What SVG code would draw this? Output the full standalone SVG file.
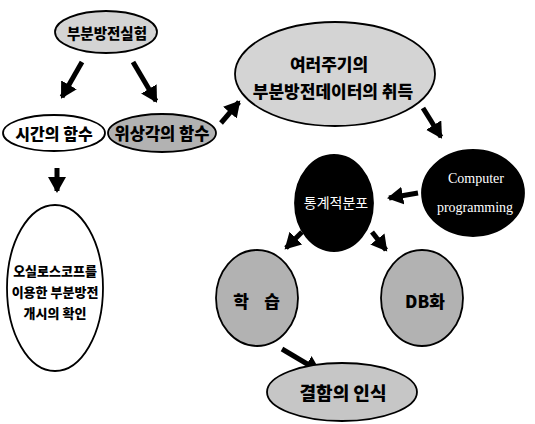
<svg xmlns="http://www.w3.org/2000/svg" width="535" height="424" viewBox="0 0 535 424">
<defs>
<style>
.node{stroke:#000;stroke-width:1.8}
.w{fill:#fff}
.l{fill:#d4d4d4}
.m{fill:#c6c6c6}
.d{fill:#b2b2b2}
.b{fill:#000}
.t{font-family:"Noto Sans CJK KR","Noto Sans",sans-serif;font-weight:900;font-size:14px;fill:#000;text-anchor:middle;dominant-baseline:central}
.tw{font-family:"Noto Sans CJK KR","Noto Sans",sans-serif;font-size:14px;fill:#fff;text-anchor:middle;dominant-baseline:central}
.ts{font-family:"Liberation Serif",serif;font-size:14px;fill:#fff;text-anchor:middle;dominant-baseline:central}
.arr{stroke:#000;stroke-width:5;fill:none;marker-end:url(#ah)}
</style>
<marker id="ah" markerUnits="userSpaceOnUse" markerWidth="18" markerHeight="18" refX="14" refY="9" orient="auto">
<path d="M0,0 L16,9 L0,18 z" fill="#000"/>
</marker>
</defs>
<rect width="535" height="424" fill="#fff"/>
<g id="connectors">
<line class="arr" x1="82" y1="62" x2="62" y2="97"/>
<line class="arr" x1="133" y1="62" x2="156" y2="101"/>
<line class="arr" x1="221" y1="123" x2="239" y2="102"/>
<line class="arr" x1="423" y1="108" x2="441" y2="137"/>
<line class="arr" x1="418" y1="193" x2="389" y2="198"/>
<line class="arr" x1="302" y1="232" x2="286" y2="248"/>
<line class="arr" x1="372" y1="232" x2="386" y2="250"/>
<line class="arr" x1="282" y1="349" x2="319" y2="371"/>
<line class="arr" x1="57" y1="168" x2="57" y2="191"/>
</g>
<g id="n1"><ellipse class="node l" cx="106" cy="32" rx="51" ry="21"/><text class="t" x="107" y="32" style="font-size:14.5px">부분방전실험</text></g>
<g id="n2"><ellipse class="node w" cx="54" cy="133" rx="51" ry="18"/><text class="t" x="54" y="133" style="font-size:16px">시간의 함수</text></g>
<g id="n3"><ellipse class="node d" cx="162" cy="133" rx="54" ry="19"/><text class="t" x="162" y="133" style="font-size:16.5px">위상각의 함수</text></g>
<g id="n4"><ellipse class="node l" cx="335" cy="74" rx="100" ry="52"/><text class="t" x="329" y="63" style="font-size:17px">여러주기의</text><text class="t" x="333" y="90" style="font-size:17px">부분방전데이터의 취득</text></g>
<g id="n5"><ellipse class="node b" cx="473" cy="193" rx="51" ry="43"/><text class="ts" x="476" y="178">Computer</text><text class="ts" x="475" y="207">programming</text></g>
<g id="n6"><ellipse class="node b" cx="334" cy="203" rx="39" ry="48"/><text class="tw" x="336" y="202">통계적분포</text></g>
<g id="n7"><ellipse class="node d" cx="257" cy="298" rx="41" ry="48"/><text class="t" x="258" y="300" style="font-size:17px"><tspan x="241">학</tspan><tspan x="272">습</tspan></text></g>
<g id="n8"><ellipse class="node d" cx="422" cy="298" rx="41" ry="48"/><text class="t" x="425" y="300" style="font-size:17px">DB화</text></g>
<g id="n9"><ellipse class="node m" cx="342" cy="392" rx="75" ry="29"/><text class="t" x="343" y="392" style="font-size:18px">결함의 인식</text></g>
<g id="n10"><ellipse class="node w" cx="55" cy="288" rx="48" ry="83"/><text class="t" x="55" y="270" style="font-size:13px">오실로스코프를</text><text class="t" x="55" y="291" style="font-size:13px">이용한 부분방전</text><text class="t" x="55" y="312" style="font-size:13px">개시의 확인</text></g>
</svg>
